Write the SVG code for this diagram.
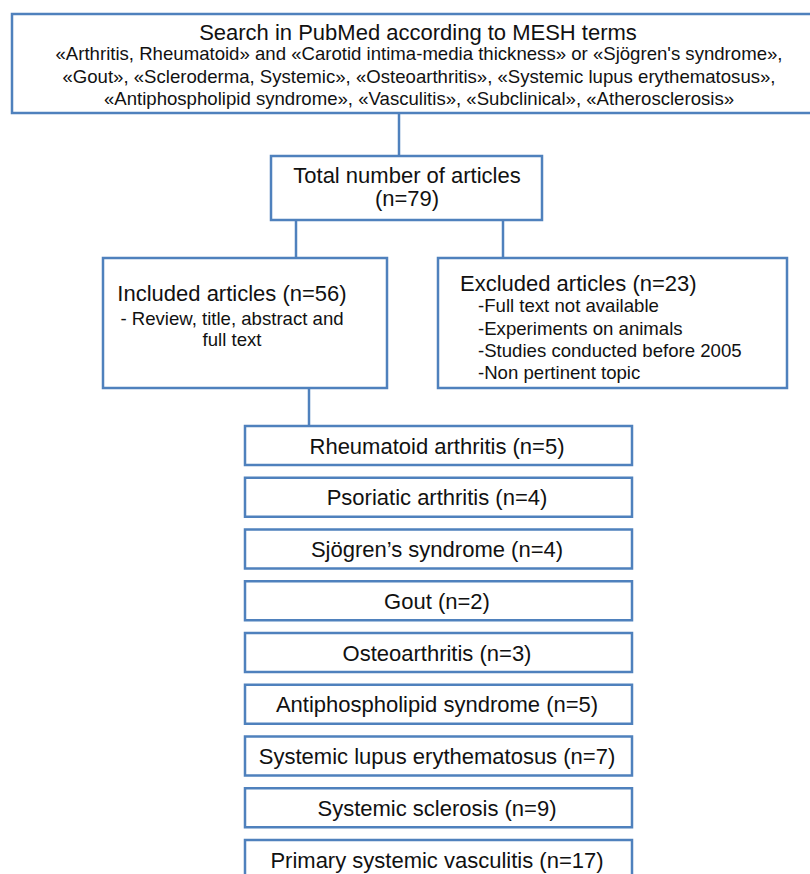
<svg xmlns="http://www.w3.org/2000/svg" width="810" height="874" viewBox="0 0 810 874">
<style>
.box{fill:#fff;stroke:#4F81BD;stroke-width:2.5}
.ln{stroke:#4F81BD;stroke-width:2.5;fill:none}
text{font-family:"Liberation Sans",Arial,sans-serif;fill:#111}
.t{font-size:22px}
.s{font-size:18.6px}
.m{text-anchor:middle}
</style>
<rect width="810" height="874" fill="#fff"/>
<g id="connectors">
<line class="ln" x1="399" y1="114" x2="399" y2="156"/>
<line class="ln" x1="296" y1="220" x2="296" y2="258"/>
<line class="ln" x1="503" y1="220" x2="503" y2="258"/>
<line class="ln" x1="309" y1="388" x2="309" y2="426"/>
</g>
<g id="search">
<rect class="box" x="12" y="14" width="812" height="99"/>
<text class="t m" x="418" y="39.5">Search in PubMed according to MESH terms</text>
<text class="s m" x="419" y="60">«Arthritis, Rheumatoid» and «Carotid intima-media thickness» or «Sjögren's syndrome»,</text>
<text class="s m" x="419" y="83">«Gout», «Scleroderma, Systemic», «Osteoarthritis», «Systemic lupus erythematosus»,</text>
<text class="s m" x="419" y="105">«Antiphospholipid syndrome», «Vasculitis», «Subclinical», «Atherosclerosis»</text>
</g>
<g id="total">
<rect class="box" x="271" y="156" width="271" height="64"/>
<text class="t m" x="407" y="182.5">Total number of articles</text>
<text class="t m" x="407" y="206">(n=79)</text>
</g>
<g id="included">
<rect class="box" x="103" y="258" width="284" height="130"/>
<text class="t m" x="232" y="301">Included articles (n=56)</text>
<text class="s m" x="232" y="324.5">- Review, title, abstract and</text>
<text class="s m" x="232" y="345.5">full text</text>
</g>
<g id="excluded">
<rect class="box" x="438" y="258" width="349" height="130"/>
<text class="t" x="460" y="291">Excluded articles (n=23)</text>
<text class="s" x="478" y="311.5">-Full text not available</text>
<text class="s" x="478" y="334.5">-Experiments on animals</text>
<text class="s" x="478" y="356.5">-Studies conducted before 2005</text>
<text class="s" x="478" y="378.5">-Non pertinent topic</text>
</g>
<g id="ra"><rect class="box" x="245" y="426" width="387" height="39"/><text class="t m" x="437" y="453.5">Rheumatoid arthritis (n=5)</text></g>
<g id="psa"><rect class="box" x="245" y="477.75" width="387" height="39"/><text class="t m" x="437" y="505.25">Psoriatic arthritis (n=4)</text></g>
<g id="ss"><rect class="box" x="245" y="529.5" width="387" height="39"/><text class="t m" x="437" y="557">Sjögren’s syndrome (n=4)</text></g>
<g id="gout"><rect class="box" x="245" y="581.25" width="387" height="39"/><text class="t m" x="437" y="608.75">Gout (n=2)</text></g>
<g id="oa"><rect class="box" x="245" y="633" width="387" height="39"/><text class="t m" x="437" y="660.5">Osteoarthritis (n=3)</text></g>
<g id="aps"><rect class="box" x="245" y="684.75" width="387" height="39"/><text class="t m" x="437" y="712.25">Antiphospholipid syndrome (n=5)</text></g>
<g id="sle"><rect class="box" x="245" y="736.5" width="387" height="39"/><text class="t m" x="437" y="764">Systemic lupus erythematosus (n=7)</text></g>
<g id="ssc"><rect class="box" x="245" y="788.25" width="387" height="39"/><text class="t m" x="437" y="815.75">Systemic sclerosis (n=9)</text></g>
<g id="psv"><rect class="box" x="245" y="840" width="387" height="39"/><text class="t m" x="437" y="867.5">Primary systemic vasculitis (n=17)</text></g>
</svg>
